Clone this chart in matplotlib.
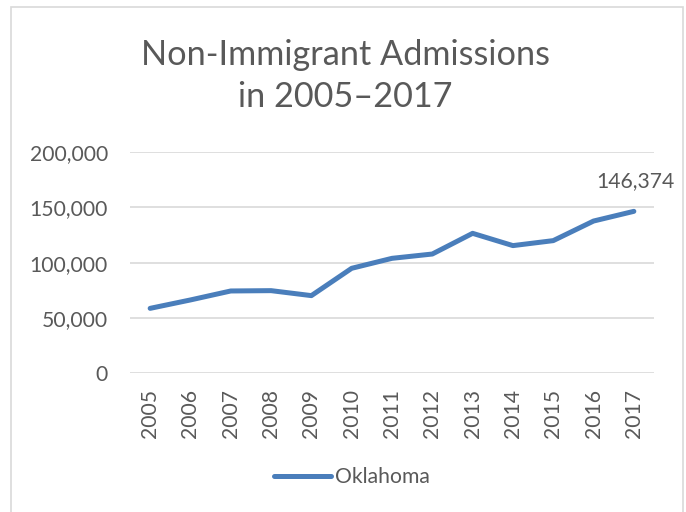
import matplotlib
matplotlib.use('Agg')
import matplotlib.pyplot as plt
from matplotlib.patches import Rectangle
from matplotlib.ticker import FuncFormatter

# data
years = ['2005', '2006', '2007', '2008', '2009', '2010', '2011',
         '2012', '2013', '2014', '2015', '2016', '2017']
oklahoma = [58700, 66300, 74400, 74700, 70200, 94900, 103900,
            107800, 126500, 115400, 119900, 137600, 146374]
y_ticks = [0, 50000, 100000, 150000, 200000]

plt.rcParams['font.family'] = ['Lato', 'DejaVu Sans']
text_col = '#595959'
grid_col = '#d9d9d9'
line_col = '#4a7ebb'
fs = 15.2

fig = plt.figure(figsize=(6.86, 5.12), dpi=100)
ax = fig.add_axes([130 / 686, 1 - 373.3 / 512, 524 / 686, 221.3 / 512])

x = list(range(len(years)))
line, = ax.plot(x, oklahoma, color=line_col, linewidth=3.6,
                solid_capstyle='round', solid_joinstyle='round', label='Oklahoma')

# label on the last point
ax.annotate(f'{oklahoma[-1]:,}', (x[-1], oklahoma[-1]), xytext=(1, 22),
            textcoords='offset points', ha='center', va='center',
            fontsize=fs, color=text_col)

ax.set_xlim(-0.5, len(years) - 0.5)
ax.set_ylim(0, 200000)
ax.set_yticks(y_ticks)
ax.yaxis.set_major_formatter(FuncFormatter(lambda v, p: f'{int(v):,}'))
ax.set_xticks(x)
ax.set_xticklabels(years, rotation=90)
ax.tick_params(axis='both', length=0, labelsize=fs, labelcolor=text_col)
ax.tick_params(axis='y', pad=16)
ax.tick_params(axis='x', pad=11)
ax.grid(axis='y', color=grid_col, linewidth=1.2)
ax.set_axisbelow(True)
for s in ax.spines.values():
    s.set_visible(False)

fig.text(0.503, 1 - 76 / 512, 'Non-Immigrant Admissions\nin 2005\u20132017',
         ha='center', va='center', fontsize=24.7, color=text_col, linespacing=1.42)

fig.legend(handles=[line], loc='center', bbox_to_anchor=(352 / 686, 1 - 477 / 512),
           frameon=False, fontsize=fs, handlelength=2.7, handletextpad=0.2,
           labelcolor=text_col)

# chart border
fig.add_artist(Rectangle((11 / 686, -0.01), 672 / 686, 1 - 7 / 512 + 0.01,
                         transform=fig.transFigure, fill=False,
                         edgecolor=grid_col, linewidth=1.2))

fig.savefig('out.png', dpi=100)
